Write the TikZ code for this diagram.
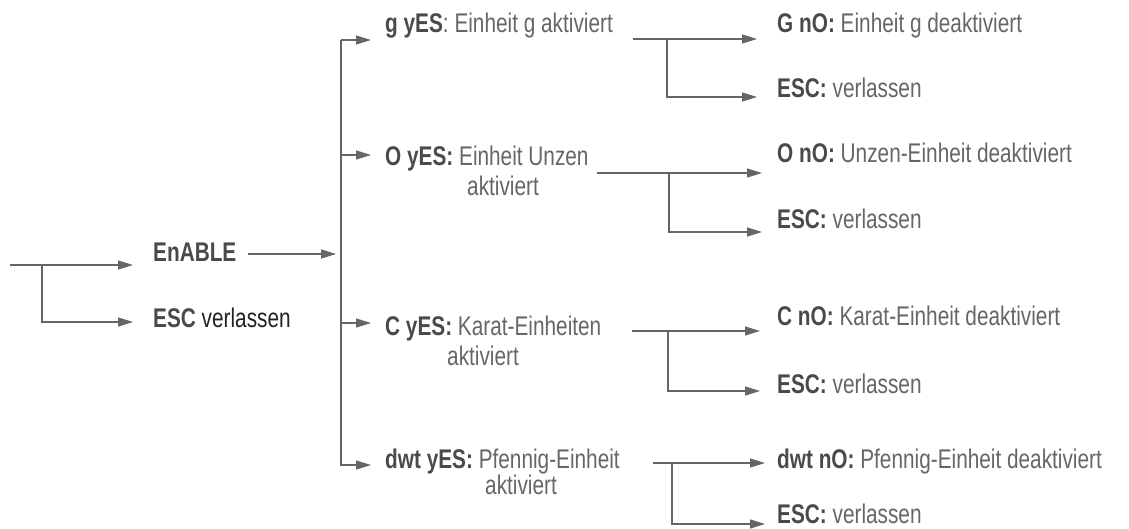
\documentclass[tikz,border=0pt]{standalone}
\usepackage{fontspec}
\setmainfont{Liberation Sans}[FakeStretch=0.77]
\usetikzlibrary{arrows.meta}
\definecolor{linegray}{HTML}{666666}
\definecolor{keygray}{HTML}{4A4A4A}
\definecolor{textgray}{HTML}{666666}
\definecolor{darktext}{HTML}{222222}
\newcommand{\keyword}[1]{\textbf{\color{keygray}#1}}

\begin{document}
\begin{tikzpicture}[x=1pt,y=-1pt,
  lbl/.style={anchor=base west, inner sep=0pt, font=\fontsize{27}{31}\selectfont, text=textgray},
  link/.style={draw=linegray, line width=1.3pt},
  tip/.style={link, -{Triangle[length=15pt,width=9pt]}}]
\useasboundingbox (0,0) rectangle (1129,528);

% ---- labels ----
\node[lbl] (enable) at (153,261) {\keyword{EnABLE}};
\node[lbl, text=darktext] (esc0) at (153,327) {\keyword{ESC} verlassen};

\node[lbl] (gyes) at (385,32) {\keyword{g yES}: Einheit g aktiviert};
\node[lbl] (oyes) at (385,165) {\keyword{O yES:} Einheit Unzen};
\node[lbl] (oyes2) at (467,195) {aktiviert};
\node[lbl] (cyes) at (385,335) {\keyword{C yES:} Karat-Einheiten};
\node[lbl] (cyes2) at (447,365) {aktiviert};
\node[lbl] (dyes) at (385,468) {\keyword{dwt yES:} Pfennig-Einheit};
\node[lbl] (dyes2) at (485,494) {aktiviert};

\node[lbl] (gno) at (777,32) {\keyword{G nO:} Einheit g deaktiviert};
\node[lbl] (gesc) at (777,97) {\keyword{ESC:} verlassen};
\node[lbl] (ono) at (777,162) {\keyword{O nO:} Unzen-Einheit deaktiviert};
\node[lbl] (oesc) at (777,228) {\keyword{ESC:} verlassen};
\node[lbl] (cno) at (777,325) {\keyword{C nO:} Karat-Einheit deaktiviert};
\node[lbl] (cesc) at (777,393) {\keyword{ESC:} verlassen};
\node[lbl] (dno) at (777,468) {\keyword{dwt nO:} Pfennig-Einheit deaktiviert};
\node[lbl] (desc) at (777,523) {\keyword{ESC:} verlassen};

% ---- entry fork ----
\coordinate (in) at (10,265);
\coordinate (inj) at (42,265);
\coordinate (tEnable) at (133,265);
\coordinate (tEsc) at (133,322);
\draw[tip] (in) -- (tEnable);
\draw[tip] (inj) |- (tEsc);

% ---- EnABLE to the bus ----
\coordinate (enOut) at (248,254);
\coordinate (busIn) at (336,254);
\draw[tip] (enOut) -- (busIn);

% ---- bus with four branches ----
\coordinate (busTop) at (341,40);
\coordinate (busBot) at (341,466);
\draw[link] (busTop) -- (busBot);
\coordinate (bG) at (341,40);  \coordinate (tG) at (371,40);
\coordinate (bO) at (341,155); \coordinate (tO) at (371,155);
\coordinate (bC) at (341,323); \coordinate (tC) at (371,323);
\coordinate (bD) at (341,465); \coordinate (tD) at (371,465);
\draw[tip] (bG) -- (tG);
\draw[tip] (bO) -- (tO);
\draw[tip] (bC) -- (tC);
\draw[tip] (bD) -- (tD);

% ---- forks to the "nO" / ESC choices ----
\coordinate (gS) at (633,39);  \coordinate (gJ) at (667,39);
\coordinate (gT1) at (757,39); \coordinate (gT2) at (757,97);
\draw[tip] (gS) -- (gT1);
\draw[tip] (gJ) |- (gT2);

\coordinate (oS) at (597,173); \coordinate (oJ) at (669,173);
\coordinate (oT1) at (762,173); \coordinate (oT2) at (762,232);
\draw[tip] (oS) -- (oT1);
\draw[tip] (oJ) |- (oT2);

\coordinate (cS) at (632,331); \coordinate (cJ) at (668,331);
\coordinate (cT1) at (760,331); \coordinate (cT2) at (760,391);
\draw[tip] (cS) -- (cT1);
\draw[tip] (cJ) |- (cT2);

\coordinate (dS) at (653,463); \coordinate (dJ) at (672,463);
\coordinate (dT1) at (765,463); \coordinate (dT2) at (765,524);
\draw[tip] (dS) -- (dT1);
\draw[tip] (dJ) |- (dT2);
\end{tikzpicture}
\end{document}
